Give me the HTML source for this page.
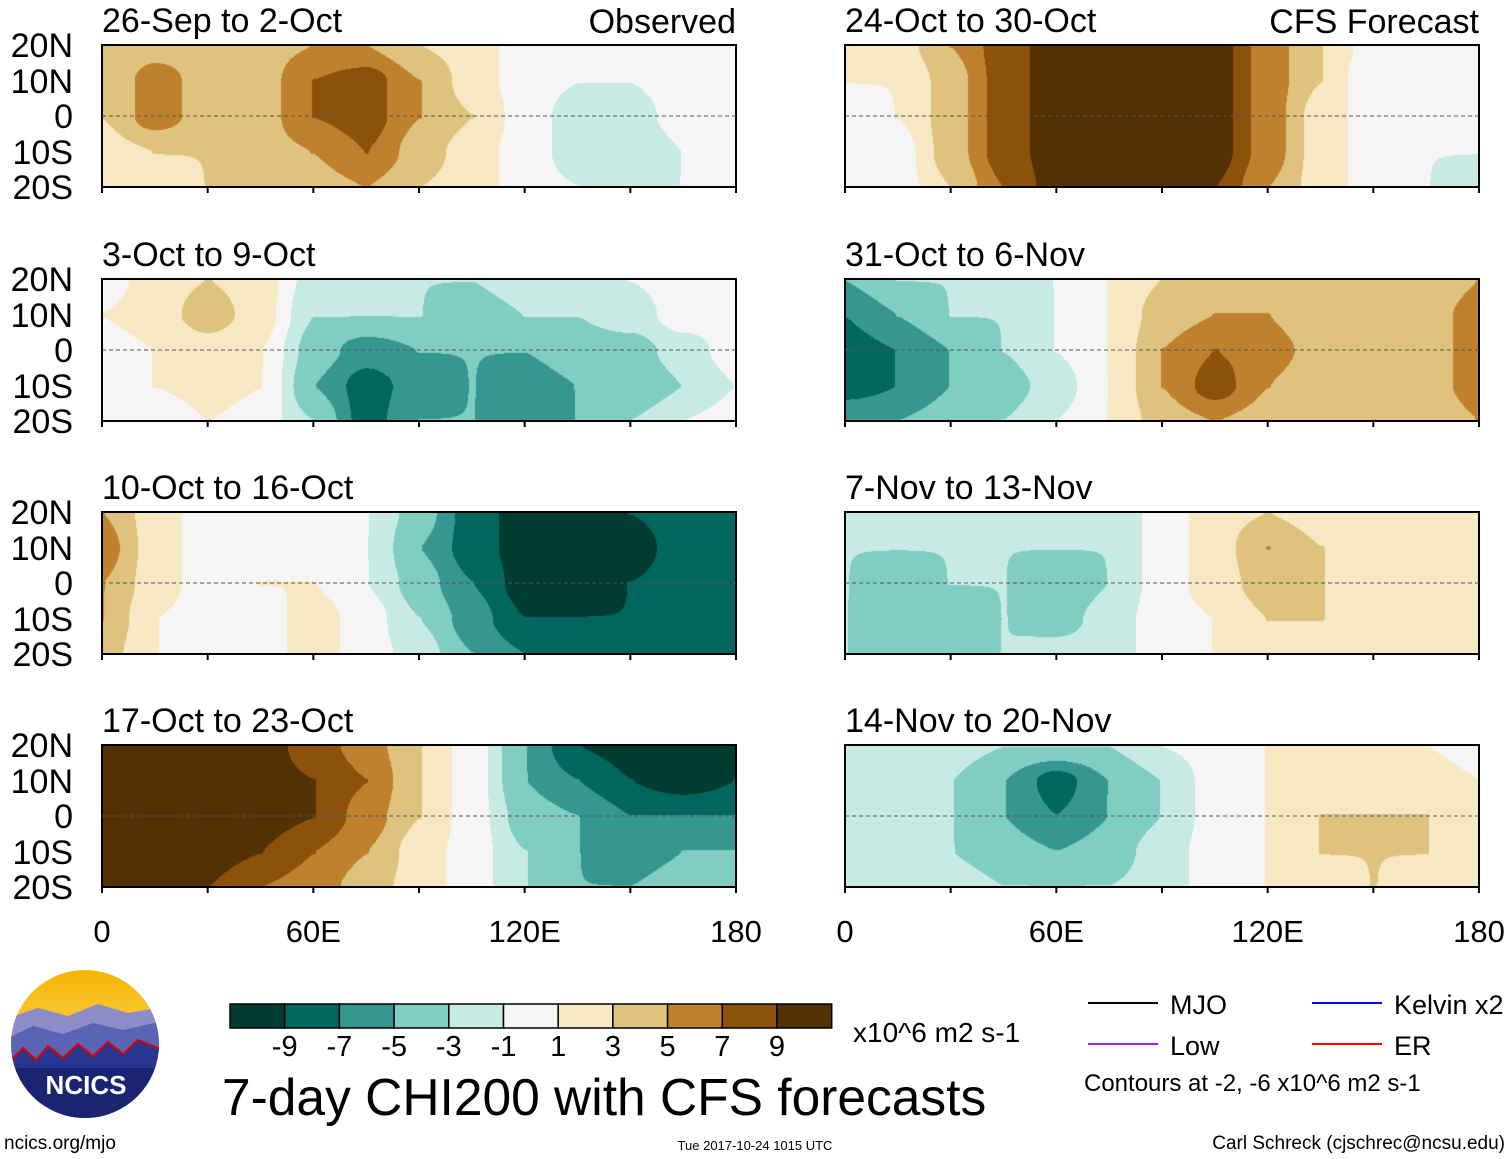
<!DOCTYPE html>
<html><head><meta charset="utf-8">
<style>
body{margin:0;background:#fff;width:1510px;height:1159px;position:relative;overflow:hidden;font-family:"Liberation Sans",sans-serif;}
.t{position:absolute;white-space:nowrap;color:#000;}
canvas{position:absolute;}
.frame{position:absolute;border:2px solid #000;box-sizing:border-box;}
</style></head><body>
<svg id="ov" width="1510" height="1159" style="position:absolute;left:0;top:0"></svg>
<script>
const lons=[0,15,30,45,60,75,90,105,120,135,150,165,180];
const lats=[20,10,0,-10,-20];
const levels=[-9,-7,-5,-3,-1,1,3,5,7,9];
const colors=["#003c30","#01665e","#35978f","#80cdc1","#c7eae5","#f5f5f5","#f6e8c3","#dfc27d","#bf812d","#8c510a","#543005"];
const titles=["26-Sep to 2-Oct","24-Oct to 30-Oct","3-Oct to 9-Oct","31-Oct to 6-Nov","10-Oct to 16-Oct","7-Nov to 13-Nov","17-Oct to 23-Oct","14-Nov to 20-Nov"];
const p1=[[3,4,4,4,5,5,3,2,0,0,0,0,0],[3,6,4,4,7,8,5,2,0,-1,-1,0,0],[3,6,4,4,7,8,5,3,0,-2,-2,0,0],[2,3,3,4,5,7,4,2,0,-2,-3,-1,0],[1,2,3,3,4,5,3,2,0,-1,-2,-1,0]];
const p2=[[2,2,5,8,10,10,10,10,6,3,0,0,0],[1,1,4,8,10,10,10,10,6,3,-1,0,0],[0,1,4,8,10,10,10,10,6,2,0,0,0],[-1,0,4,8,10,10,10,10,6,2,0,-1,-1],[0,0,3,7,10,10,10,9,5,2,0,-1,-2]];
const p3=[[0,2,3,2,-2,-3,-3,-3,-2,-2,-1,0,0],[1,2,4,2,-3,-3,-3,-4,-3,-3,-2,0,0],[0,1,2,1,-4,-6,-5,-5,-5,-4,-4,-2,0],[0,1,2,1,-5,-8,-6,-5,-6,-5,-5,-3,-1],[0,-1,1,0,-3,-8,-5,-5,-7,-5,-3,-1,0]];
const p4=[[-5,-3,-3,-2,-1,1,3,3,3,3,3,3,5],[-7,-5,-3,-3,-1,1,4,5,5,3,3,4,6],[-8,-7,-5,-3,-1,1,5,7,6,4,3,4,6],[-8,-7,-5,-4,-2,1,5,8,5,3,3,4,6],[-5,-5,-4,-3,-1,1,4,5,4,3,3,3,5]];
const p5=[[5,2,0,0,0,-1,-4,-8,-10,-10,-9,-8,-8],[6,2,0,0,0,-1,-5,-8,-10,-10,-10,-8,-8],[5,2,0,1,1,-1,-4,-7,-10,-10,-9,-8,-8],[5,1,0,0,2,0,-3,-6,-9,-9,-9,-8,-8],[4,1,0,0,2,0,-2,-5,-7,-9,-9,-8,-8]];
const p6=[[-3,-3,-3,-3,-3,-3,0,2,3,2,2,2,2],[-3,-3,-3,-3,-3,-3,0,2,5,3,2,2,2],[-3,-4,-3,-3,-5,-3,0,2,4,3,2,2,2],[-3,-5,-5,-3,-4,-2,0,1,3,3,2,2,1],[-3,-5,-4,-3,-2,-2,0,1,2,2,1,1,1]];
const p7=[[10,10,10,10,8,6,3,0,-5,-9,-10,-10,-10],[10,10,10,10,9,7,3,0,-5,-7,-9,-10,-9],[10,10,10,10,9,6,3,0,-4,-5,-7,-7,-7],[10,10,10,9,7,5,2,0,-3,-5,-7,-5,-5],[10,10,9,7,6,4,2,0,-3,-5,-5,-3,-3]];
const p8=[[-2,-2,-2,-3,-3,-3,-1,0,1,1,2,1,0],[-2,-2,-3,-5,-8,-5,-3,0,1,2,2,2,1],[-2,-2,-3,-5,-7,-5,-3,0,1,3,3,3,1],[-2,-2,-3,-4,-5,-4,-2,0,1,3,3,3,1],[-2,-2,-2,-3,-3,-3,-2,0,1,2,3,2,1]];
const panels=[p1,p2,p3,p4,p5,p6,p7,p8];
const xTicks=["0","60E","120E","180"];
const yTicks=["20N","10N","0","10S","20S"];
</script>
<script>
const PW=634,PH=142,colX=[102,845],rowY=[45,279,512,745];
const svgNS="http://www.w3.org/2000/svg";
const ov=document.getElementById('ov');
function xS(lon,x0){return x0+lon/180*PW;}
function yS(lat,y0){return y0+(20-lat)/40*PH;}
function colorOf(v){let i=0;while(i<levels.length&&v>=levels[i])i++;return colors[i];}
function sm(t){return t*t*(3-2*t);}
function sample(g,lon,lat){
  let fx=lon/15,fy=(20-lat)/10;
  let i=Math.min(Math.floor(fx),11),j=Math.min(Math.floor(fy),3);
  let tx=sm(fx-i),ty=sm(fy-j);
  return g[j][i]*(1-tx)*(1-ty)+g[j][i+1]*tx*(1-ty)+g[j+1][i]*(1-tx)*ty+g[j+1][i+1]*tx*ty+0.013;
}
function txt(s,x,y,size,anchor,name){
  const d=document.createElement('div');d.className='t';d.textContent=s;
  d.style.fontSize=size+'px';d.style.top=(y-size*0.9)+'px';
  if(anchor==='end'){d.style.right=(1510-x)+'px';}
  else if(anchor==='middle'){d.style.left=x+'px';d.style.transform='translateX(-50%)';}
  else d.style.left=x+'px';
  
  
  document.body.appendChild(d);return d;
}
panels.forEach((g,k)=>{
  const x0=colX[k%2],y0=rowY[Math.floor(k/2)];
  const c=document.createElement('canvas');c.width=PW;c.height=PH;
  c.style.left=x0+'px';c.style.top=y0+'px';
  
  
  document.body.appendChild(c);
  const ctx=c.getContext('2d');
  for(let px=0;px<PW;px++){for(let py=0;py<PH;py++){
    const lon=px/PW*180,lat=20-py/PH*40;
    ctx.fillStyle=colorOf(sample(g,lon,lat));ctx.fillRect(px,py,1,1);
  }}
  const eq=document.createElementNS(svgNS,'line');
  eq.setAttribute('x1',x0);eq.setAttribute('x2',x0+PW);
  eq.setAttribute('y1',yS(0,y0));eq.setAttribute('y2',yS(0,y0));
  eq.setAttribute('stroke','#555');eq.setAttribute('stroke-dasharray','4,3');eq.setAttribute('stroke-width','1');
  
  
  ov.appendChild(eq);
  for(let lon=0;lon<=180;lon+=30){
    const tk=document.createElementNS(svgNS,'line');
    tk.setAttribute('x1',xS(lon,x0));tk.setAttribute('x2',xS(lon,x0));
    tk.setAttribute('y1',y0+PH);tk.setAttribute('y2',y0+PH+6);tk.setAttribute('stroke','#000');tk.setAttribute('stroke-width','2');
    
    
    ov.appendChild(tk);
  }
  const f=document.createElement('div');f.className='frame';
  f.style.left=(x0-1)+'px';f.style.top=(y0-1)+'px';f.style.width=(PW+2)+'px';f.style.height=(PH+2)+'px';
  
  
  document.body.appendChild(f);
  txt(titles[k],x0,y0-12,34,'start','panel-title');
  if(k%2===0){yTicks.forEach((s,i)=>txt(s,73,yS(lats[i],y0)+13,34,'end','y-tick-label'));}
});
ov.parentNode.appendChild(ov);
txt("Observed",736,34,34,'end','observed-label');
txt("CFS Forecast",1479,34,34,'end','cfs-forecast-label');
[0,1].forEach(c=>{[0,60,120,180].forEach((lon,i)=>txt(xTicks[i],xS(lon,colX[c]),942,31,'middle','x-tick-label'));});
const cb0=230,cbw=54.7;
colors.forEach((col,i)=>{
  const r=document.createElementNS(svgNS,'rect');
  r.setAttribute('x',cb0+i*cbw);r.setAttribute('y',1004);r.setAttribute('width',cbw);r.setAttribute('height',24);
  r.setAttribute('fill',col);r.setAttribute('stroke','#000');r.setAttribute('stroke-width','1.5');
  
  
  ov.appendChild(r);
});
const cbLabels=["-9","-7","-5","-3","-1","1","3","5","7","9"];
cbLabels.forEach((s,i)=>txt(s,cb0+(i+1)*cbw,1057,29,'middle','colorbar-label'));
txt("x10^6 m2 s-1",853,1042,28,'start','colorbar-units');
txt("7-day CHI200 with CFS forecasts",222,1113,51.5,'start','chart-title');
const leg=[["MJO","#000",1088,1003],["Kelvin x2","#0000ff",1312,1003],["Low","#a020f0",1088,1044],["ER","#ff0000",1312,1044]];
leg.forEach(l=>{
  const ln=document.createElementNS(svgNS,'line');
  ln.setAttribute('x1',l[2]);ln.setAttribute('x2',l[2]+70);ln.setAttribute('y1',l[3]);ln.setAttribute('y2',l[3]);
  ln.setAttribute('stroke',l[1]);ln.setAttribute('stroke-width','2');
  
  
  ov.appendChild(ln);
  txt(l[0],l[2]+82,l[3]+11,27,'start','legend-entry');
});
txt("Contours at -2, -6 x10^6 m2 s-1",1084,1092,24,'start','contour-note');
txt("ncics.org/mjo",4,1150,19,'start','site-url');
txt("Tue 2017-10-24 1015 UTC",755,1150,13,'middle','timestamp');
txt("Carl Schreck (cjschrec@ncsu.edu)",1505,1150,19,'end','author-credit');
</script>
<svg width="160" height="160" style="position:absolute;top:968px;left:8px">
<defs><clipPath id="cc"><circle cx="77" cy="76" r="74"/></clipPath>
<linearGradient id="sky" x1="0" y1="0" x2="0" y2="1"><stop offset="0" stop-color="#f7b500"/><stop offset="1" stop-color="#fde9a0"/></linearGradient></defs>
<g clip-path="url(#cc)">
<rect x="0" y="0" width="160" height="160" fill="url(#sky)"/>
<path d="M0 50 L30 40 L60 48 L90 36 L120 45 L160 38 L160 160 L0 160Z" fill="#8c8cc8"/>
<path d="M0 70 L25 58 L55 66 L85 55 L115 62 L160 52 L160 160 L0 160Z" fill="#5a64b4"/>
<path d="M0 95 L15 80 L28 92 L40 78 L55 90 L70 76 L85 88 L100 74 L115 86 L130 72 L160 84 L160 160 L0 160Z" fill="#2a3590" stroke="#d00" stroke-width="2"/>
<rect x="0" y="100" width="160" height="60" fill="#1a2470"/>
</g>
<text x="78" y="126" font-family="Liberation Sans" font-weight="bold" font-size="26" fill="#fff" text-anchor="middle">NCICS</text>
</svg>
</body></html>
